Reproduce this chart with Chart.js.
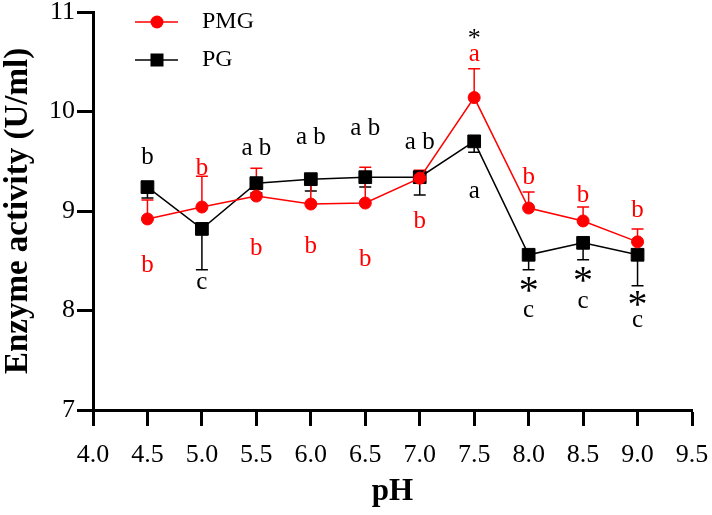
<!DOCTYPE html>
<html>
<head>
<meta charset="utf-8">
<script src="https://cdn.jsdelivr.net/npm/chart.js@4.4.0/dist/chart.umd.min.js"></script>
<style>
  html, body { margin: 0; padding: 0; background: #fff; }
  #wrap { width: 712px; height: 515px; }
</style>
</head>
<body>
<div id="wrap"><canvas id="phChart" width="712" height="515"></canvas></div>
<script>
// pH values and enzyme activity (U/ml)
const phValues = [4.5, 5.0, 5.5, 6.0, 6.5, 7.0, 7.5, 8.0, 8.5, 9.0];
const pmgMean = [8.92, 9.04, 9.15, 9.07, 9.08, 9.33, 10.14, 9.03, 8.90, 8.69];
const pmgErr = [0.19, 0.31, 0.28, 0.22, 0.36, 0.08, 0.29, 0.16, 0.14, 0.13];
const pgMean = [9.24, 8.82, 9.28, 9.32, 9.34, 9.34, 9.70, 8.56, 8.68, 8.56];
const pgErr = [0.11, 0.41, 0.10, 0.12, 0.10, 0.18, 0.11, 0.15, 0.17, 0.31];

// significance letters and where they sit (in U/ml)
const pmgLetters = ['b', 'b', 'b', 'b', 'b', 'b', 'a', 'b', 'b', 'b'];
const pmgLetterY = [8.47, 9.45, 8.64, 8.66, 8.53, 8.91, 10.57, 9.36, 9.18, 9.03];
const pgLetters = ['b', 'c', 'a b', 'a b', 'a b', 'a b', 'a', 'c', 'c', 'c'];
const pgLetterY = [9.56, 8.28, 9.65, 9.76, 9.85, 9.71, 9.19, 7.99, 8.09, 7.89];
const starPh = [7.5, 8.0, 8.5, 9.0];
const starY = [10.78, 8.26, 8.36, 8.12];

const SERIF = "'Liberation Serif', 'Times New Roman', serif";

function centered(ctx, text, x, y) {
  const m = ctx.measureText(text);
  ctx.fillText(text, x, y + (m.actualBoundingBoxAscent - m.actualBoundingBoxDescent) / 2);
}

const errorBars = {
  id: 'errorBars',
  beforeDatasetsDraw(chart) {
    const { ctx, scales: { x, y } } = chart;
    ctx.save();
    ctx.lineWidth = 1.5;
    const draw = (means, errs, dir, color) => {
      ctx.strokeStyle = color;
      phValues.forEach((p, i) => {
        const px = x.getPixelForValue(p);
        const y0 = y.getPixelForValue(means[i]);
        const y1 = y.getPixelForValue(means[i] + dir * errs[i]);
        ctx.beginPath();
        ctx.moveTo(px, y0); ctx.lineTo(px, y1);
        ctx.moveTo(px - 6, y1); ctx.lineTo(px + 6, y1);
        ctx.stroke();
      });
    };
    draw(pgMean, pgErr, -1, '#000');
    draw(pmgMean, pmgErr, 1, '#ff0000');
    ctx.restore();
  }
};

const letters = {
  id: 'letters',
  afterDatasetsDraw(chart) {
    const { ctx, scales: { x, y } } = chart;
    ctx.save();
    ctx.textAlign = 'center';
    ctx.textBaseline = 'alphabetic';
    ctx.font = '25px ' + SERIF;
    phValues.forEach((p, i) => {
      const px = x.getPixelForValue(p);
      ctx.fillStyle = '#ff0000';
      centered(ctx, pmgLetters[i], px, y.getPixelForValue(pmgLetterY[i]));
      ctx.fillStyle = '#000';
      centered(ctx, pgLetters[i], px, y.getPixelForValue(pgLetterY[i]));
    });
    ctx.fillStyle = '#000';
    starPh.forEach((p, i) => {
      ctx.font = (i === 0 ? '26px ' : '40px ') + SERIF;
      centered(ctx, '*', x.getPixelForValue(p), y.getPixelForValue(starY[i]));
    });
    ctx.restore();
  }
};

const lineLegend = {
  id: 'lineLegend',
  afterDraw(chart) {
    const { ctx } = chart;
    ctx.save();
    chart.data.datasets.forEach((ds, i) => {
      const cy = 22 + i * 38;
      ctx.strokeStyle = ds.borderColor;
      ctx.lineWidth = 1.5;
      ctx.beginPath(); ctx.moveTo(135, cy); ctx.lineTo(178, cy); ctx.stroke();
      ctx.fillStyle = ds.backgroundColor;
      if (ds.pointStyle === 'rect') {
        ctx.fillRect(157 - 6.5, cy - 6.5, 13, 13);
      } else {
        ctx.beginPath(); ctx.arc(157, cy, 6.5, 0, Math.PI * 2); ctx.fill();
      }
      ctx.fillStyle = '#000';
      ctx.font = '24px ' + SERIF;
      ctx.textAlign = 'left';
      ctx.textBaseline = 'middle';
      ctx.fillText(ds.label, 202, cy);
    });
    ctx.restore();
  }
};

new Chart(document.getElementById('phChart').getContext('2d'), {
  type: 'line',
  data: {
    datasets: [
      {
        label: 'PMG',
        data: phValues.map((p, i) => ({ x: p, y: pmgMean[i] })),
        borderColor: '#ff0000',
        backgroundColor: '#ff0000',
        borderWidth: 1.5,
        pointStyle: 'circle',
        pointRadius: 6,
        pointBorderWidth: 1,
        tension: 0
      },
      {
        label: 'PG',
        data: phValues.map((p, i) => ({ x: p, y: pgMean[i] })),
        borderColor: '#000',
        backgroundColor: '#000',
        borderWidth: 1.5,
        pointStyle: 'rect',
        pointRadius: 9,
        pointBorderWidth: 1,
        tension: 0
      }
    ]
  },
  options: {
    responsive: false,
    animation: false,
    layout: { padding: { top: 12, right: 20, left: 0, bottom: 0 } },
    plugins: { legend: { display: false }, tooltip: { enabled: false } },
    scales: {
      x: {
        type: 'linear',
        min: 4, max: 9.5,
        afterFit(s) { s.height = 105; s.paddingLeft = 0; s.paddingRight = 0; },
        ticks: {
          stepSize: 0.5,
          color: '#000',
          padding: 14,
          maxRotation: 0,
          autoSkip: false,
          font: { family: SERIF, size: 26 },
          callback: v => v.toFixed(1)
        },
        grid: { drawOnChartArea: false, drawTicks: true, tickLength: 16, tickWidth: 3, tickColor: '#000' },
        border: { color: '#000', width: 3 },
        title: {
          display: true, text: 'pH', color: '#000',
          font: { family: SERIF, size: 31, weight: 'bold', lineHeight: 1.2 },
          padding: { top: 0, bottom: 4 }
        }
      },
      y: {
        min: 7, max: 11,
        afterFit(s) { s.width = 93; s.paddingTop = 0; s.paddingBottom = 0; },
        ticks: {
          stepSize: 1,
          color: '#000',
          padding: 2,
          font: { family: SERIF, size: 26 }
        },
        grid: { drawOnChartArea: false, drawTicks: true, tickLength: 16, tickWidth: 3, tickColor: '#000' },
        border: { color: '#000', width: 3 },
        title: {
          display: true, text: 'Enzyme activity (U/ml)', color: '#000',
          font: { family: SERIF, size: 33, weight: 'bold', lineHeight: 1.1 },
          padding: { top: 0, bottom: 0 }
        }
      }
    }
  },
  plugins: [errorBars, letters, lineLegend]
});
</script>
</body>
</html>
